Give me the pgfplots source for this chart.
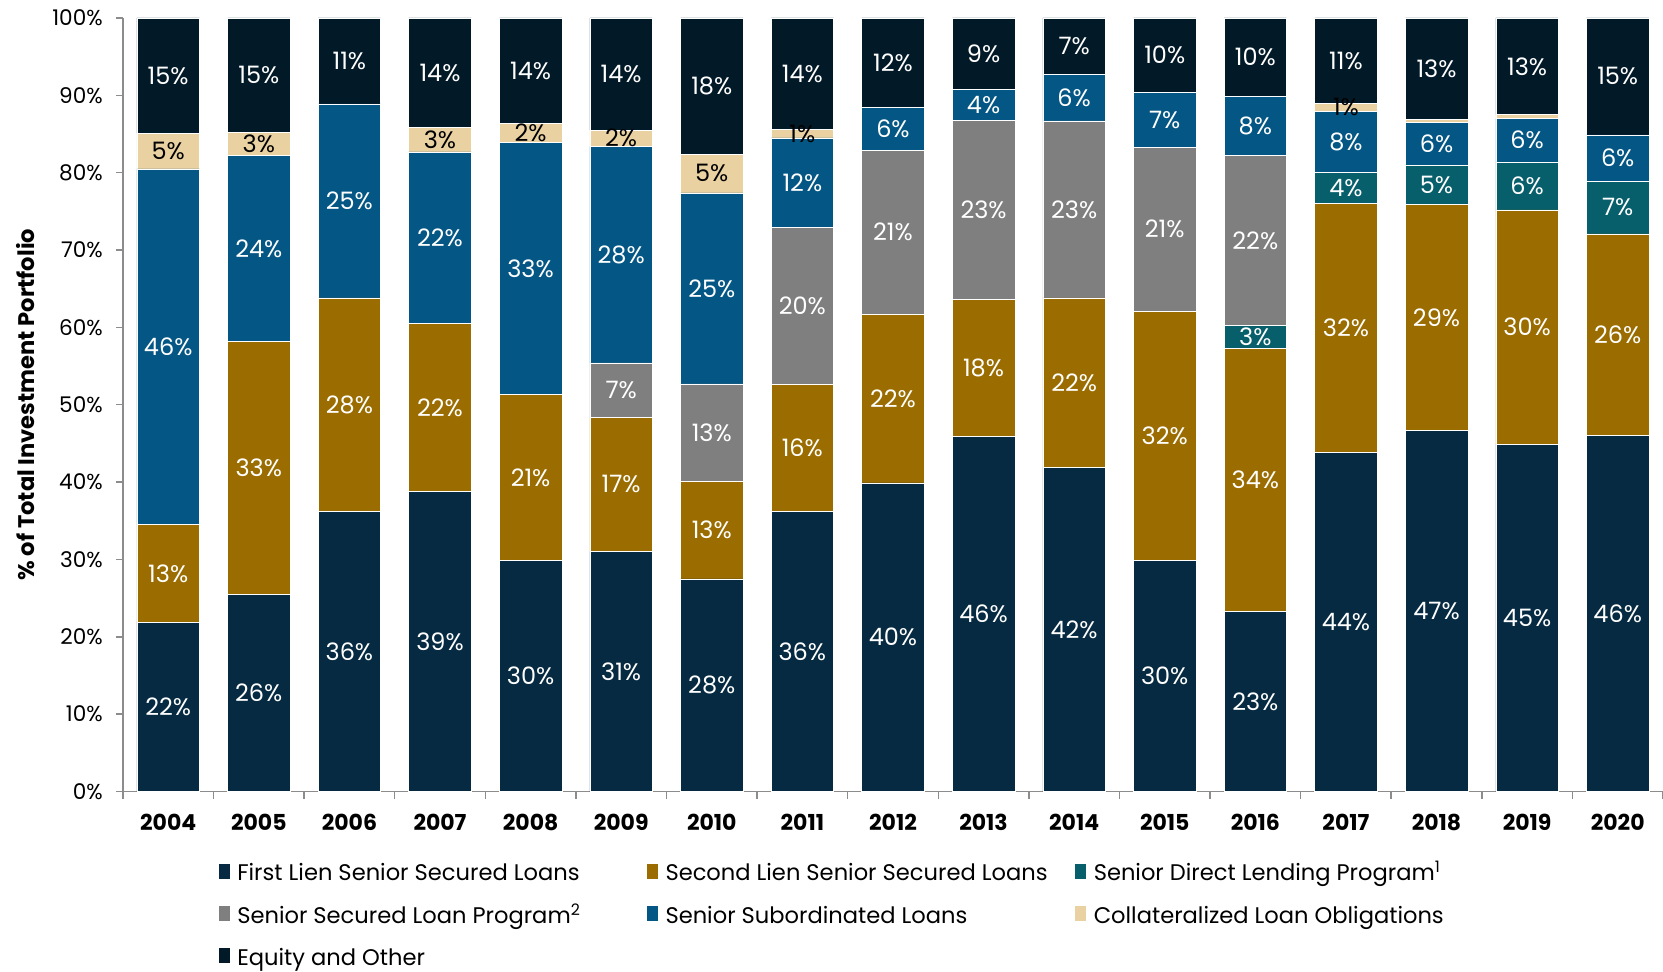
\documentclass[border=0pt]{standalone}
\usepackage{pgfplots}
\pgfplotsset{compat=1.18}
\usepackage{pgfplotstable}
\usepackage{fontspec}
\setmainfont{Poppins}
\definecolor{cFirst}{HTML}{052A41}
\definecolor{cSecond}{HTML}{9B6D00}
\definecolor{cSDLP}{HTML}{065F6B}
\definecolor{cSSLP}{HTML}{7F7F7F}
\definecolor{cSub}{HTML}{045684}
\definecolor{cCLO}{HTML}{E9D1A2}
\definecolor{cEq}{HTML}{021927}
\definecolor{axgray}{HTML}{8C8C8C}

% First Lien Senior Secured Loans
\pgfplotstableread{
x v l
0 21.9 22\%
1 25.5 26\%
2 36.2 36\%
3 38.8 39\%
4 29.9 30\%
5 31.0 31\%
6 27.5 28\%
7 36.2 36\%
8 39.9 40\%
9 45.9 46\%
10 41.9 42\%
11 29.9 30\%
12 23.3 23\%
13 43.8 44\%
14 46.7 47\%
15 44.9 45\%
16 46.0 46\%
}\tFirst
% Second Lien Senior Secured Loans
\pgfplotstableread{
x v l
0 12.6 13\%
1 32.7 33\%
2 27.6 28\%
3 21.7 22\%
4 21.4 21\%
5 17.4 17\%
6 12.6 13\%
7 16.4 16\%
8 21.8 22\%
9 17.7 18\%
10 21.9 22\%
11 32.2 32\%
12 34.0 34\%
13 32.2 32\%
14 29.2 29\%
15 30.3 30\%
16 26.1 26\%
}\tSecond
% Senior Direct Lending Program
\pgfplotstableread{
x v l
0 0 {}
1 0 {}
2 0 {}
3 0 {}
4 0 {}
5 0 {}
6 0 {}
7 0 {}
8 0 {}
9 0 {}
10 0 {}
11 0 {}
12 3.0 3\%
13 4.0 4\%
14 5.1 5\%
15 6.2 6\%
16 6.8 7\%
}\tSDLP
% Senior Secured Loan Program
\pgfplotstableread{
x v l
0 0 {}
1 0 {}
2 0 {}
3 0 {}
4 0 {}
5 7.0 7\%
6 12.6 13\%
7 20.3 20\%
8 21.2 21\%
9 23.2 23\%
10 22.9 23\%
11 21.2 21\%
12 21.9 22\%
13 0 {}
14 0 {}
15 0 {}
16 0 {}
}\tSSLP
% Senior Subordinated Loans
\pgfplotstableread{
x v l
0 46.0 46\%
1 24.0 24\%
2 25.1 25\%
3 22.2 22\%
4 32.6 33\%
5 28.0 28\%
6 24.7 25\%
7 11.6 12\%
8 5.5 6\%
9 4.0 4\%
10 6.0 6\%
11 7.1 7\%
12 7.7 8\%
13 7.9 8\%
14 5.5 6\%
15 5.6 6\%
16 6.0 6\%
}\tSub
% Collateralized Loan Obligations
\pgfplotstableread{
x v l
0 4.6 5\%
1 3.0 3\%
2 0 {}
3 3.2 3\%
4 2.5 2\%
5 2.1 2\%
6 5.0 5\%
7 1.1 1\%
8 0 {}
9 0 {}
10 0 {}
11 0 {}
12 0 {}
13 1.1 1\%
14 0.4 {}
15 0.5 {}
16 0 {}
}\tCLO
% Equity and Other
\pgfplotstableread{
x v l
0 14.9 15\%
1 14.8 15\%
2 11.1 11\%
3 14.1 14\%
4 13.6 14\%
5 14.5 14\%
6 17.6 18\%
7 14.4 14\%
8 11.6 12\%
9 9.2 9\%
10 7.3 7\%
11 9.6 10\%
12 10.1 10\%
13 11.0 11\%
14 13.1 13\%
15 12.5 13\%
16 15.1 15\%
}\tEq

\newcommand{\lgd}[1]{\makebox[208pt][l]{\hspace{3.5pt}#1}}

\begin{document}
\begin{tikzpicture}
\useasboundingbox (-61.5pt,-90pt) rectangle (770.5pt,396pt);
\begin{axis}[
  at={(0pt,0pt)}, anchor=south west,
  scale only axis,
  width=770.5pt, height=387pt,
  ybar legend/.style={legend image code/.code={\fill[##1,draw=none] (0pt,-3pt) rectangle (6pt,3pt);}},
  ybar stacked,
  bar width=31.3pt,
  xmin=-0.5, xmax=16.5,
  ymin=0, ymax=100,
  axis x line*=bottom, axis y line*=left,
  axis line style={axgray, line width=0.75pt},
  xtick={0,...,16},
  xticklabels={2004,2005,2006,2007,2008,2009,2010,2011,2012,2013,2014,2015,2016,2017,2018,2019,2020},
  minor xtick={-0.5,0.5,...,16.5},
  major x tick style={draw=none},
  tick align=outside,
  major tick length=3.5pt, minor tick length=3.5pt,
  tick style={axgray, line width=0.75pt},
  ytick={0,10,...,100},
  yticklabel={\pgfmathprintnumber{\tick}\%},
  /pgf/number format/assume math mode=true,
  tick label style={font=\fontsize{10.8}{12}\selectfont, inner sep=0pt},
  xticklabel style={font=\bfseries\fontsize{11}{12}\selectfont, anchor=north, yshift=-7.5pt},
  yticklabel style={anchor=east, xshift=-6.4pt},
  ylabel={\% of Total Investment Portfolio},
  ylabel style={at={(axis description cs:-0.0635,0.5)}, anchor=center, font=\bfseries\fontsize{11.3}{12}\selectfont},
  point meta=explicit symbolic,
  nodes near coords,
  nodes near coords align={center},
  every node near coord/.append style={font=\fontsize{12}{12}\selectfont, text=white, anchor=center},
  legend columns=3,
  legend cell align=left,
  legend style={draw=none, fill=none, inner sep=0pt, outer sep=0pt, column sep=0pt, row sep=9pt,
    at={(0.0616,-0.092)}, anchor=north west,
    font=\fontsize{11.3}{12}\selectfont,
    nodes={inner sep=0pt, text height=9pt, text depth=3pt}},
  mybar/.style={fill=#1, draw=white, line width=0.25pt},
]
\addplot[mybar=cFirst] table[x=x,y=v,meta=l]{\tFirst};
\addlegendentry{\lgd{First Lien Senior Secured Loans}}
\addplot[mybar=cSecond] table[x=x,y=v,meta=l]{\tSecond};
\addlegendentry{\lgd{Second Lien Senior Secured Loans}}
\addplot[mybar=cSDLP] table[x=x,y=v,meta=l]{\tSDLP};
\addlegendentry{\lgd{Senior Direct Lending Program\textsuperscript{1}}}
\addplot[mybar=cSSLP] table[x=x,y=v,meta=l]{\tSSLP};
\addlegendentry{\lgd{Senior Secured Loan Program\textsuperscript{2}}}
\addplot[mybar=cSub] table[x=x,y=v,meta=l]{\tSub};
\addlegendentry{\lgd{Senior Subordinated Loans}}
\addplot[mybar=cCLO, every node near coord/.append style={text=black}] table[x=x,y=v,meta=l]{\tCLO};
\addlegendentry{\lgd{Collateralized Loan Obligations}}
\addplot[mybar=cEq] table[x=x,y=v,meta=l]{\tEq};
\addlegendentry{\lgd{Equity and Other}}
\end{axis}
\end{tikzpicture}
\end{document}
